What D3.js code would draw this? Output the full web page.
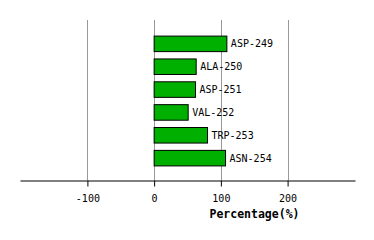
<!DOCTYPE html>
<html>
<head>
<meta charset="utf-8">
<script src="https://cdn.jsdelivr.net/npm/d3@7"></script>
<style>
body { margin: 0; background: #fff; }
text { font-family: "DejaVu Sans Mono", monospace; }
</style>
</head>
<body>
<svg width="374" height="240"></svg>
<script>
var residues = ["ASP-249", "ALA-250", "ASP-251", "VAL-252", "TRP-253", "ASN-254"];
var percents = [109, 63, 62, 51, 80, 107];
var tickVals = [-100, 0, 100, 200];

var svg = d3.select("svg");

var xScale = d3.scaleLinear().domain([-201, 301]).range([20, 355]);
var yScale = d3.scaleBand().domain(residues).range([21, 181])
    .paddingInner(0.32).paddingOuter(0.66);

// grid
svg.selectAll("line.grid")
    .data(tickVals)
    .enter()
    .append("line")
    .attr("class", "grid")
    .attr("x1", d => Math.round(xScale(d)) + 0.5)
    .attr("x2", d => Math.round(xScale(d)) + 0.5)
    .attr("y1", 20)
    .attr("y2", 180)
    .attr("stroke", "#999")
    .attr("stroke-width", 1);

var rows = residues.map((r, i) => ({name: r, value: percents[i]}));

svg.selectAll("rect")
    .data(rows)
    .enter()
    .append("rect")
    .attr("x", xScale(0))
    .attr("y", d => yScale(d.name))
    .attr("width", d => xScale(d.value) - xScale(0))
    .attr("height", yScale.bandwidth())
    .attr("fill", "#00b000")
    .attr("stroke", "#000")
    .attr("stroke-width", 1);

svg.selectAll("text.lbl")
    .data(rows)
    .enter()
    .append("text")
    .attr("class", "lbl")
    .attr("x", d => xScale(d.value) + 4)
    .attr("y", d => yScale(d.name) + yScale.bandwidth() / 2)
    .attr("dy", "0.35em")
    .attr("font-size", 10)
    .text(d => d.name);

// axis
var axis = d3.axisBottom(xScale).tickValues(tickVals).tickSize(6).tickPadding(8).tickSizeOuter(0);
var g = svg.append("g").attr("transform", "translate(0,180.5)").call(axis);
g.select(".domain").attr("stroke", "#000");
g.selectAll(".tick line").attr("stroke", "#000");
g.selectAll(".tick text")
    .attr("font-family", "DejaVu Sans Mono, monospace")
    .attr("font-size", 10)
    .attr("fill", "#000")
    .text(d => d < 0 ? "-" + Math.abs(d) : d);

svg.append("text")
    .attr("x", 254.5)
    .attr("y", 218)
    .attr("text-anchor", "middle")
    .attr("font-size", 11.5)
    .attr("font-weight", "bold")
    .text("Percentage(%)");
</script>
</body>
</html>
